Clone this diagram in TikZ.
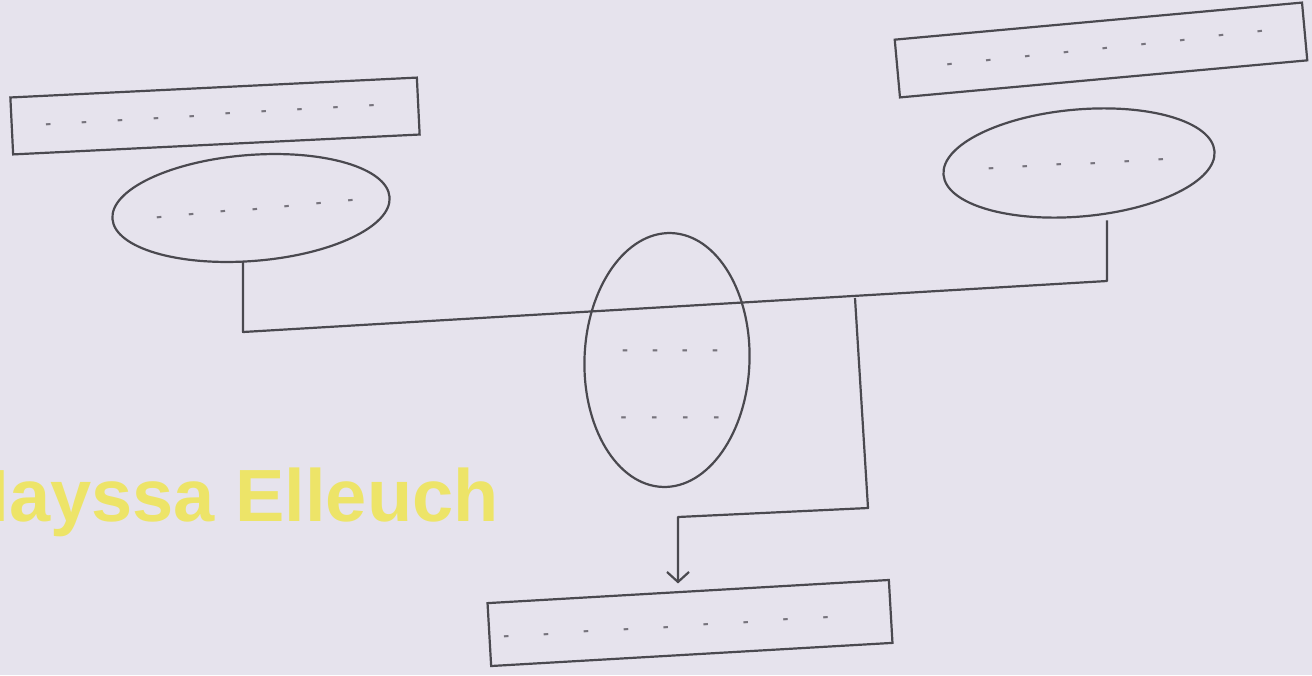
\documentclass[tikz,border=0pt]{standalone}
\usepackage{fontspec}
\setmainfont{Liberation Sans}
\usetikzlibrary{shapes.geometric,arrows.meta}
\definecolor{paper}{HTML}{E6E3ED}
\definecolor{ink}{HTML}{4A494F}
\definecolor{pencil}{HTML}{76737C}
\definecolor{wmark}{HTML}{EEE55A}
\newcommand\dashrow[2]{-\foreach \i in {2,...,#1}{\hspace{#2}-}}
\tikzset{
  sketch/.style={draw=ink, line width=2.2pt},
  bar/.style={sketch, rectangle, inner sep=0pt},
  oval/.style={sketch, ellipse, inner sep=0pt},
  filltext/.style={text=pencil, font=\fontsize{18}{18}\selectfont\bfseries, inner sep=0pt},
  conn/.style={draw=ink, line width=2.2pt, line join=round},
}
\begin{document}
\begin{tikzpicture}[x=1pt,y=-1pt]
\useasboundingbox (0,0) rectangle (1312,675);
\clip (0,0) rectangle (1312,675);
\fill[paper] (0,0) rectangle (1312,675);

% watermark
\node[anchor=base east, text=wmark, opacity=0.9, inner sep=0pt,
      font=\fontsize{74}{74}\selectfont\bfseries] (wm) at (499,521) {Mayssa Elleuch};

% boxes
\node[bar, minimum width=407pt, minimum height=57pt, rotate=2.8] (tl) at (215,116) {};
\node[oval, minimum width=278pt, minimum height=106pt, rotate=4.5] (le) at (251,208) {};
\node[bar, minimum width=409pt, minimum height=58pt, rotate=5.2] (tr) at (1101,50) {};
\node[oval, minimum width=272pt, minimum height=107pt, rotate=5] (re) at (1079,163) {};
\node[oval, minimum width=165pt, minimum height=254pt, rotate=-2] (me) at (667,360) {};
\node[bar, minimum width=402pt, minimum height=63pt, rotate=3.3] (br) at (690,623) {};

% placeholder text
\node[filltext, rotate=3.5] (tlt) at (210,117) {\dashrow{10}{30pt}};
\node[filltext, rotate=5] (let) at (255,211) {\dashrow{7}{26pt}};
\node[filltext, rotate=6] (trt) at (1105,50) {\dashrow{9}{33pt}};
\node[filltext, rotate=3] (ret) at (1076,166) {\dashrow{6}{28pt}};
\node[filltext] (met1) at (670,353) {\dashrow{4}{24pt}};
\node[filltext] (met2) at (670,420) {\dashrow{4}{25pt}};
\node[filltext, rotate=3.5] (brt) at (666,629) {\dashrow{9}{34pt}};

% connectors
\coordinate (j1) at (243,332);
\coordinate (j2) at (1107,281);
\coordinate (j3) at (855,298);
\coordinate (k1) at (868,508);
\coordinate (k2) at (678,517);

\draw[conn] (le.south -| j1) -- (j1) -- (j2) -- ([yshift=-3pt]re.south -| j2);
\draw[conn, -{Straight Barb[length=10pt,width=22pt,line width=2.2pt]}, shorten >=7pt]
  (j3) -- (k1) -- (k2) -- (k2 |- br.north);
\end{tikzpicture}
\end{document}
